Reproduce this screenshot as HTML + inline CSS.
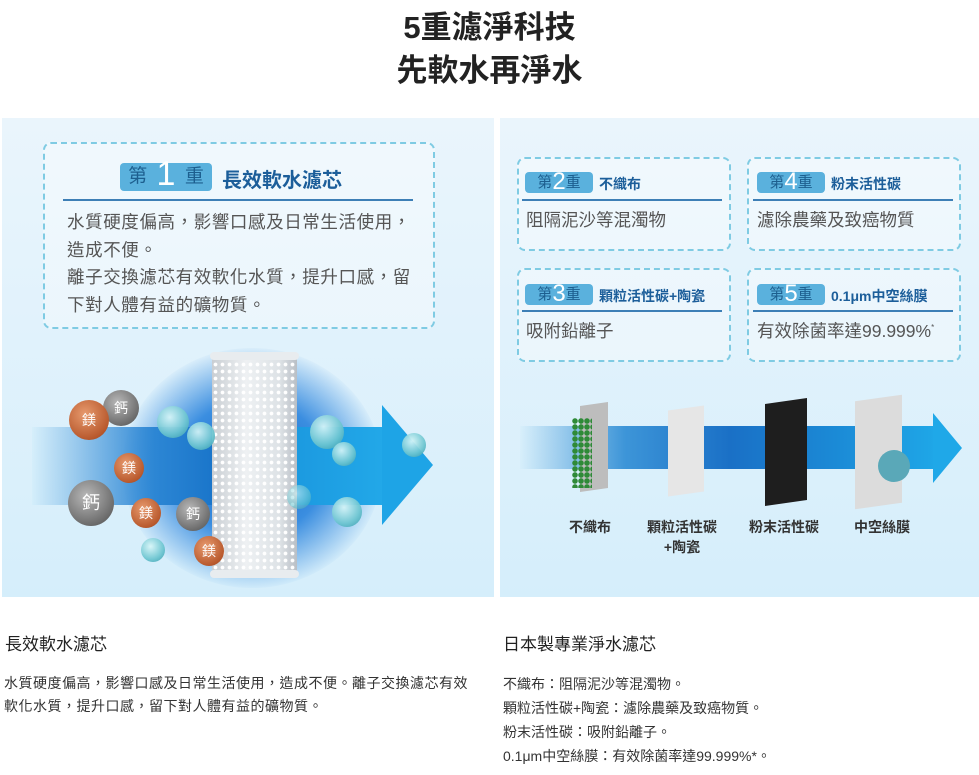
<!DOCTYPE html>
<html><head><meta charset="utf-8"><style>
*{margin:0;padding:0;box-sizing:border-box}
body{width:979px;height:775px;background:#fff;font-family:"Liberation Sans","Noto Sans CJK TC",sans-serif;position:relative;overflow:hidden;color:#333}
.a{position:absolute}
.t{font-weight:bold;font-size:31px;color:#222;text-align:center;width:979px;left:0}
.panel{background:linear-gradient(180deg,#eaf5fc,#d5eefb)}
.box{border:2px dashed #7fcbe3;border-radius:8px;background:rgba(255,255,255,.35)}
.badge{background:#5ab1dd;color:#1d5f8f;border-radius:4px;font-size:15px;text-align:center;white-space:nowrap}
.badge b{font-weight:normal;color:#fff;font-size:24px;line-height:20px;vertical-align:-2px}
.ht{color:#1c5e9a;font-weight:bold}
.ln{height:2px;background:#3d7fb6}
.bd{color:#555}
.ball{position:absolute;border-radius:50%;color:#fff;text-align:center;font-size:14px}
.cu{background:radial-gradient(circle at 40% 35%,#e79a6e,#b95a2e 70%,#8f3e1d)}
.ca{background:radial-gradient(circle at 40% 35%,#b8b8b8,#6d6d6d 70%,#4a4a4a)}
.aq{background:radial-gradient(circle at 40% 35%,#d8f6f8,#6cc5d0 60%,#2f95a8);opacity:.92}
.lab{font-size:14px;font-weight:bold;color:#333;text-align:center}
</style></head><body>
<div class="a t" style="top:2px">5重濾淨科技</div>
<div class="a t" style="top:45px">先軟水再淨水</div>

<div class="a panel" style="left:2px;top:118px;width:492px;height:479px;overflow:hidden">
 <div class="a" style="left:120px;top:230px;width:260px;height:240px;border-radius:50%;background:radial-gradient(ellipse,#0f63c5 0%,#3b8ee0 40%,rgba(190,225,248,0) 72%)"></div>
 <div class="a" style="left:30px;top:309px;width:352px;height:78px;background:linear-gradient(90deg,rgba(200,235,250,.3),#2c86d4 35%,#1672c8 55%,#1c9ae0 75%,#22a8e8)"></div>
 <svg class="a" style="left:370px;top:280px" width="70" height="130"><polygon points="10,7 61,67 10,127" fill="#1ea4e6"/></svg>
 <div class="a" style="left:210px;top:236px;width:85px;height:223px;border-radius:6px;background:radial-gradient(circle,#fff 1.6px,transparent 2.2px) 0 0/7px 7px,linear-gradient(90deg,#c9ced3,#eef1f3 40%,#dde2e6 80%,#b9bfc5)"></div>
 <div class="a" style="left:208px;top:234px;width:89px;height:8px;border-radius:4px;background:#e8ecef"></div>
 <div class="a" style="left:208px;top:452px;width:89px;height:8px;border-radius:4px;background:#e8ecef"></div>
</div>
<div class="ball aq" style="left:157px;top:406px;width:32px;height:32px"></div>
<div class="ball aq" style="left:187px;top:422px;width:28px;height:28px"></div>
<div class="ball ca" style="left:103px;top:390px;width:36px;height:36px;line-height:36px">鈣</div>
<div class="ball cu" style="left:69px;top:400px;width:40px;height:40px;line-height:40px">鎂</div>
<div class="ball cu" style="left:114px;top:453px;width:30px;height:30px;line-height:30px">鎂</div>
<div class="ball ca" style="left:68px;top:480px;width:46px;height:46px;line-height:46px;font-size:18px">鈣</div>
<div class="ball cu" style="left:131px;top:498px;width:30px;height:30px;line-height:30px">鎂</div>
<div class="ball ca" style="left:176px;top:497px;width:34px;height:34px;line-height:34px">鈣</div>
<div class="ball aq" style="left:141px;top:538px;width:24px;height:24px"></div>
<div class="ball cu" style="left:194px;top:536px;width:30px;height:30px;line-height:30px">鎂</div>
<div class="ball aq" style="left:310px;top:415px;width:34px;height:34px"></div>
<div class="ball aq" style="left:332px;top:442px;width:24px;height:24px"></div>
<div class="ball aq" style="left:402px;top:433px;width:24px;height:24px"></div>
<div class="ball aq" style="left:332px;top:497px;width:30px;height:30px"></div>
<div class="ball aq" style="left:287px;top:485px;width:24px;height:24px;opacity:.6"></div>

<div class="a box" style="left:43px;top:142px;width:392px;height:187px"></div>
<div class="a badge" style="left:120px;top:163px;width:92px;height:28px;line-height:28px;font-size:19px">第<b style="font-size:34px;vertical-align:-3px"> 1 </b>重</div>
<div class="a ht" style="left:222px;top:164px;font-size:20px">長效軟水濾芯</div>
<div class="a ln" style="left:63px;top:199px;width:350px"></div>
<div class="a bd" style="left:67px;top:209px;font-size:17.5px;letter-spacing:0.6px;line-height:27.5px;width:370px">水質硬度偏高，影響口感及日常生活使用，<br>造成不便。<br>離子交換濾芯有效軟化水質，提升口感，留<br>下對人體有益的礦物質。</div>

<div class="a panel" style="left:500px;top:118px;width:479px;height:479px;overflow:hidden">
 <div class="a" style="left:20px;top:308px;width:420px;height:43px;background:linear-gradient(90deg,rgba(200,235,250,.2),#3d95d8 25%,#1a70c6 50%,#1b8ad6 75%,#1fa8e8)"></div>
 <svg class="a" style="left:430px;top:290px" width="40" height="80"><polygon points="3,5 32,40 3,75" fill="#1fa8e8"/></svg>
 <div class="a" style="left:80px;top:286px;width:28px;height:86px;background:#bdbdbd;transform:skewY(-8deg)"></div>
 <div class="a" style="left:168px;top:290px;width:36px;height:86px;background:#e6e6e6;transform:skewY(-8deg)"></div>
 <div class="a" style="left:265px;top:283px;width:42px;height:102px;background:#1e1e1e;transform:skewY(-8deg)"></div>
 <div class="a" style="left:355px;top:280px;width:47px;height:108px;background:#dcdcdc;transform:skewY(-8deg)"></div>
 <div class="a" style="left:378px;top:332px;width:32px;height:32px;border-radius:50%;background:#5aa8b8"></div>
 <div class="a" style="left:72px;top:300px;width:20px;height:70px;background:radial-gradient(circle,#2f8a38 2.5px,transparent 3px) 0 0/6px 6px"></div>
</div>
<div class="a box" style="left:517px;top:157px;width:214px;height:94px"></div>
<div class="a box" style="left:747px;top:157px;width:214px;height:94px"></div>
<div class="a box" style="left:517px;top:268px;width:214px;height:94px"></div>
<div class="a box" style="left:747px;top:268px;width:214px;height:94px"></div>

<div class="a badge" style="left:525px;top:172px;width:68px;height:21px;line-height:21px">第<b>2</b>重</div>
<div class="a ht" style="left:599px;top:174px;font-size:14px">不織布</div>
<div class="a ln" style="left:522px;top:199px;width:200px"></div>
<div class="a bd" style="left:526px;top:207px;font-size:17.5px">阻隔泥沙等混濁物</div>

<div class="a badge" style="left:757px;top:172px;width:68px;height:21px;line-height:21px">第<b>4</b>重</div>
<div class="a ht" style="left:831px;top:174px;font-size:14px">粉末活性碳</div>
<div class="a ln" style="left:753px;top:199px;width:200px"></div>
<div class="a bd" style="left:757px;top:207px;font-size:17.5px">濾除農藥及致癌物質</div>

<div class="a badge" style="left:525px;top:284px;width:68px;height:21px;line-height:21px">第<b>3</b>重</div>
<div class="a ht" style="left:599px;top:286px;font-size:14px">顆粒活性碳+陶瓷</div>
<div class="a ln" style="left:522px;top:310px;width:200px"></div>
<div class="a bd" style="left:526px;top:318px;font-size:17.5px">吸附鉛離子</div>

<div class="a badge" style="left:757px;top:284px;width:68px;height:21px;line-height:21px">第<b>5</b>重</div>
<div class="a ht" style="left:831px;top:286px;font-size:14px">0.1μm中空絲膜</div>
<div class="a ln" style="left:753px;top:310px;width:200px"></div>
<div class="a bd" style="left:757px;top:318px;font-size:17.5px">有效除菌率達99.999%<sup style="font-size:8px">*</sup></div>

<div class="a lab" style="left:560px;top:517px;width:60px">不織布</div>
<div class="a lab" style="left:640px;top:517px;width:84px;line-height:20px">顆粒活性碳<br>+陶瓷</div>
<div class="a lab" style="left:742px;top:517px;width:84px">粉末活性碳</div>
<div class="a lab" style="left:846px;top:517px;width:72px">中空絲膜</div>

<div class="a" style="left:5px;top:630px;font-size:17px;color:#222">長效軟水濾芯</div>
<div class="a" style="left:4px;top:672px;font-size:14px;letter-spacing:0.5px;line-height:23px;color:#333;width:490px">水質硬度偏高，影響口感及日常生活使用，造成不便。離子交換濾芯有效<br>軟化水質，提升口感，留下對人體有益的礦物質。</div>
<div class="a" style="left:503px;top:630px;font-size:17px;color:#222">日本製專業淨水濾芯</div>
<div class="a" style="left:503px;top:672px;font-size:14px;line-height:24px;color:#333;width:470px">不織布：阻隔泥沙等混濁物。<br>顆粒活性碳+陶瓷：濾除農藥及致癌物質。<br>粉末活性碳：吸附鉛離子。<br>0.1μm中空絲膜：有效除菌率達99.999%*。</div>
</body></html>
